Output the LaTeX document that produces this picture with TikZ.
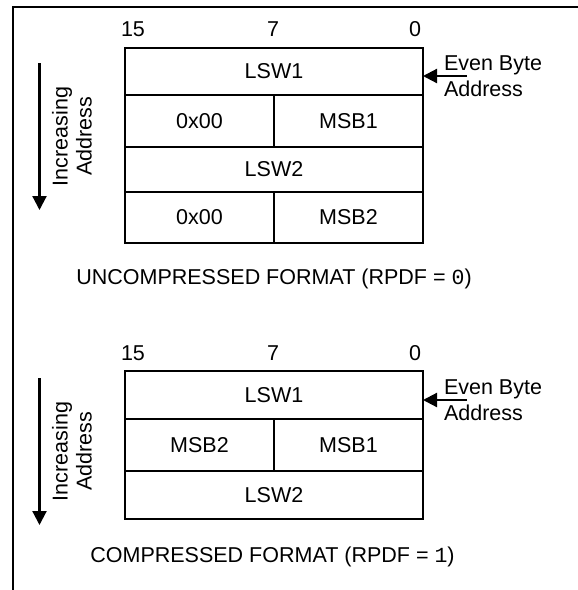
\documentclass[tikz,border=0pt]{standalone}
\usepackage{fontspec}
\setmainfont{Liberation Sans}
\setmonofont{Liberation Mono}
\usetikzlibrary{arrows.meta}
\begin{document}
\begin{tikzpicture}[x=1pt,y=-1pt,
  txt/.style={font=\fontsize{21.5}{26}\selectfont, inner sep=0pt, outer sep=0pt},
  cell/.style={txt, draw, line width=2.2pt, anchor=center},
  wide/.style={cell, minimum width=298pt},
  half/.style={cell, minimum width=149pt},
  frameline/.style={line width=2.2pt},
  arr/.style={line width=2.2pt, -{Triangle[length=14pt,width=14pt]}}]
\useasboundingbox (0,0) rectangle (578,590);
\draw[frameline] (13,595) -- (13,7) -- (583,7);

% ---------- Uncompressed ----------
\node[txt, anchor=base] (b15a) at (133,36.7) {15};
\node[txt, anchor=base] (b7a) at (273,36.7) {7};
\node[txt, anchor=base] (b0a) at (415,36.7) {0};

\node[wide, minimum height=46.7pt] (u1) at (274,71.35) {LSW1};
\node[half, minimum height=52pt] (u2l) at (199.5,120.7) {0x00};
\node[half, minimum height=52pt] (u2r) at (348.5,120.7) {MSB1};
\node[wide, minimum height=45.3pt] (u3) at (274,169.35) {LSW2};
\node[half, minimum height=51pt] (u4l) at (199.5,217.5) {0x00};
\node[half, minimum height=51pt] (u4r) at (348.5,217.5) {MSB2};

\coordinate (ia1) at (39.5,63);
\coordinate (ia2) at (39.5,210);
\draw[arr] (ia1) -- (ia2);
\node[txt, rotate=90, align=center, font=\fontsize{21.5}{24}\selectfont] (inca) at (72,136.5) {Increasing\\Address};

\coordinate (eba) at (467,76);
\draw[arr] (eba) -- (eba -| u1.east);
\node[txt, anchor=north west, align=left] (ebta) at (444,55.8) {Even Byte\\Address};

\node[txt] (capa) at (274,279) {UNCOMPRESSED FORMAT (RPDF = \texttt{0})};

% ---------- Compressed ----------
\node[txt, anchor=base] (b15b) at (133,360.5) {15};
\node[txt, anchor=base] (b7b) at (273,360.5) {7};
\node[txt, anchor=base] (b0b) at (415,360.5) {0};

\node[wide, minimum height=48pt] (c1) at (274,394.7) {LSW1};
\node[half, minimum height=52.3pt] (c2l) at (199.5,444.85) {MSB2};
\node[half, minimum height=52.3pt] (c2r) at (348.5,444.85) {MSB1};
\node[wide, minimum height=48.3pt] (c3) at (274,495.15) {LSW2};

\coordinate (ib1) at (39.5,378);
\coordinate (ib2) at (39.5,525);
\draw[arr] (ib1) -- (ib2);
\node[txt, rotate=90, align=center, font=\fontsize{21.5}{24}\selectfont] (incb) at (72,451.5) {Increasing\\Address};

\coordinate (ebb) at (467,400);
\draw[arr] (ebb) -- (ebb -| c1.east);
\node[txt, anchor=north west, align=left] (ebtb) at (444,379.8) {Even Byte\\Address};

\node[txt] (capb) at (272.5,556.7) {COMPRESSED FORMAT (RPDF = \texttt{1})};
\end{tikzpicture}
\end{document}
